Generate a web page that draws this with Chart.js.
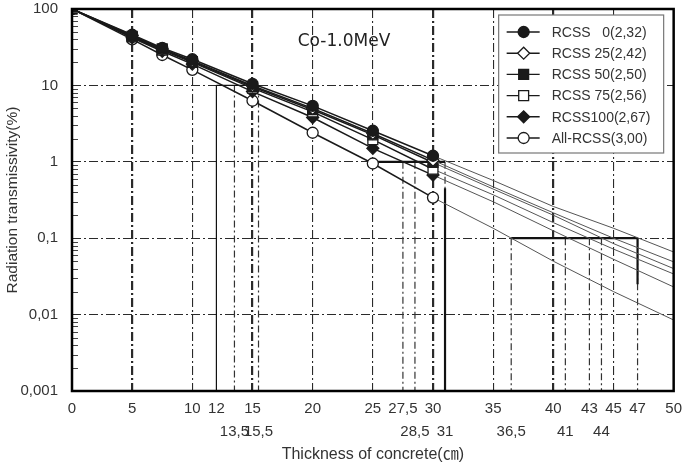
<!DOCTYPE html>
<html>
<head>
<meta charset="utf-8">
<script src="https://cdn.jsdelivr.net/npm/chart.js@4.4.1/dist/chart.umd.min.js"></script>
<style>
  html, body { margin: 0; padding: 0; background: #fff; }
</style>
</head>
<body>
<canvas id="chart" width="691" height="464"></canvas>
<script>
// thickness of concrete (cm) for each reading
const thickness = [0, 5, 7.5, 10, 15, 20, 25, 30, 35, 40, 45, 50]

// radiation transmissivity (%)
const rcss0   = [100, 46, 31, 22, 10.5, 5.4, 2.55, 1.2, 0.57, 0.26, 0.135, 0.066]
const rcss25  = [100, 45, 30, 21, 9.9, 5.0, 2.35, 1.05, 0.47, 0.215, 0.1, 0.049]
const rcss50  = [100, 44, 30, 20.5, 9.6, 4.8, 2.25, 0.98, 0.44, 0.2, 0.085, 0.04]
const rcss75  = [100, 43, 29, 20, 9.2, 4.5, 1.95, 0.8, 0.37, 0.16, 0.072, 0.034]
const rcss100 = [100, 42, 28, 19, 8.3, 3.8, 1.5, 0.67, 0.3, 0.125, 0.053, 0.023]
const allRcss = [100, 40, 25, 16, 6.3, 2.4, 0.95, 0.34, 0.135, 0.05, 0.02, 0.0085]

const seriesNames = ['RCSS   0(2,32)', 'RCSS 25(2,42)', 'RCSS 50(2,50)', 'RCSS 75(2,56)', 'RCSS100(2,67)', 'All-RCSS(3,00)']

// tick labels
const xTicksTop = [0, 5, 10, 12, 15, 20, 25, 27.5, 30, 35, 40, 43, 45, 47, 50]
const xTicksLow = [13.5, 15.5, 28.5, 31, 36.5, 41, 44]
const yTicks = [0.001, 0.01, 0.1, 1, 10, 100]

// thickness needed to reach 10%, 1% and 0.1%
const levels = [10, 1, 0.1]
const levelSpans = [[12, 15.5], [25, 31], [36.5, 47]]
const dashedDrops = [[13.5, 15.5], [27.5, 28.5, 31], [36.5, 41, 43, 44, 47]]
// solid parts of drop lines: [thickness, from %, to %]
const solidDrops = [[12, 10, 0.001], [31, 0.45, 0.001], [47, 0.1, 0.025]]

const series = [rcss0, rcss25, rcss50, rcss75, rcss100, allRcss]
const markers = [
  { style: 'circle', filled: true, r: 5.5 },
  { style: 'rectRot', filled: false, r: 6 },
  { style: 'rect', filled: true, r: 7 },
  { style: 'rect', filled: false, r: 7 },
  { style: 'rectRot', filled: true, r: 6 },
  { style: 'circle', filled: false, r: 5.5 },
]

const ink = '#1a1a1a'
const textColor = '#333'
const fontFamily = "'Liberation Sans', Arial, 'Noto Sans CJK KR', sans-serif"
const fmt = v => String(v).replace('.', ',')
const yMin = yTicks[0]

let datasets = series.map((vals, i) => {
  let m = markers[i]
  return {
    label: seriesNames[i],
    data: thickness.map((x, j) => ({ x: x, y: vals[j] })),
    borderColor: ink,
    borderWidth: 1.4,
    pointStyle: m.style,
    pointRadius: c => (c.raw && c.raw.x > 30) ? 0 : m.r,
    pointBackgroundColor: m.filled ? ink : '#fff',
    pointBorderColor: ink,
    pointBorderWidth: 1.3,
    segment: {
      borderColor: c => c.p0.parsed.x >= 30 ? '#555' : ink,
      borderWidth: c => c.p0.parsed.x >= 30 ? 1 : 1.5,
    },
    order: i,
  }
})

// reference lines
levels.forEach((lvl, k) => {
  datasets.push({
    data: [{ x: levelSpans[k][0], y: lvl }, { x: levelSpans[k][1], y: lvl }],
    borderColor: '#111', borderWidth: k == 0 ? 1.2 : 2.2, pointRadius: 0, order: 10,
  })
  dashedDrops[k].forEach(x => {
    datasets.push({
      data: [{ x: x, y: lvl }, { x: x, y: yMin }],
      borderColor: '#333', borderWidth: 1.2, borderDash: [7, 3, 2, 3], pointRadius: 0, order: 11,
    })
  })
})
solidDrops.forEach((d, k) => {
  datasets.push({
    data: [{ x: d[0], y: d[1] }, { x: d[0], y: d[2] }],
    borderColor: '#111', borderWidth: k == 0 ? 1.2 : 2.2, pointRadius: 0, order: 10,
  })
})

function drawMarker(ctx, m, x, y) {
  ctx.fillStyle = m.filled ? ink : '#fff'
  ctx.strokeStyle = ink
  ctx.lineWidth = 1.3
  Chart.helpers.drawPoint(ctx, { pointStyle: m.style, rotation: 0, radius: m.r, borderWidth: 1.3 }, x, y)
}

const framePlugin = {
  id: 'frame',
  afterDatasetsDraw(chart) {
    const { ctx, chartArea: a } = chart
    const ys = chart.scales.y
    ctx.save()

    // minor ticks inside the left axis
    ctx.strokeStyle = '#444'
    ctx.lineWidth = 1
    for (let k = 0; k < yTicks.length - 1; k++) {
      for (let m = 2; m <= 9; m++) {
        let py = Math.round(ys.getPixelForValue(m * yTicks[k])) + 0.5
        ctx.beginPath()
        ctx.moveTo(a.left, py)
        ctx.lineTo(a.left + 6, py)
        ctx.stroke()
      }
    }

    ctx.font = "17px 'DejaVu Sans', sans-serif"
    ctx.fillStyle = '#222'
    ctx.textAlign = 'center'
    ctx.textBaseline = 'middle'
    ctx.fillText('Co-1.0MeV', a.left + 272, a.top + 33)

    // legend box
    let bx = a.right - 175, by = a.top + 6, bw = 165, bh = 138
    ctx.fillStyle = '#fff'
    ctx.fillRect(bx, by, bw, bh)
    ctx.strokeStyle = '#777'
    ctx.lineWidth = 1.2
    ctx.strokeRect(bx, by, bw, bh)
    ctx.font = '14px ' + fontFamily
    ctx.textAlign = 'left'
    seriesNames.forEach((name, i) => {
      let y = by + 17 + i * 21.2
      ctx.strokeStyle = ink
      ctx.lineWidth = 1.4
      ctx.beginPath()
      ctx.moveTo(bx + 8, y)
      ctx.lineTo(bx + 41, y)
      ctx.stroke()
      drawMarker(ctx, markers[i], bx + 25, y)
      ctx.fillStyle = textColor
      ctx.fillText(name, bx + 53, y + 1)
    })

    ctx.strokeStyle = '#000'
    ctx.lineWidth = 2.5
    ctx.strokeRect(a.left, a.top, a.width, a.height)
    ctx.restore()
  }
}

const heavyX = [5, 15, 30, 40]

new Chart(document.getElementById('chart'), {
  type: 'line',
  data: { datasets: datasets },
  plugins: [framePlugin],
  options: {
    responsive: false,
    animation: false,
    devicePixelRatio: 1,
    layout: { padding: { left: 0, right: 11, top: 9, bottom: 0 } },
    plugins: { legend: { display: false }, tooltip: { enabled: false } },
    scales: {
      x: {
        type: 'linear', min: 0, max: 50, position: 'bottom', weight: 0,
        afterBuildTicks: s => { s.ticks = xTicksTop.map(v => ({ value: v })) },
        afterFit: s => { s.height = 27 },
        ticks: {
          autoSkip: false, maxRotation: 0, padding: 9, color: textColor,
          font: { family: fontFamily, size: 15 },
          callback: v => fmt(v),
        },
        grid: {
          drawTicks: false,
          color: c => {
            let v = c.tick ? c.tick.value : -1
            return (v > 0 && v < 50 && v % 5 == 0) ? '#2a2a2a' : 'rgba(0,0,0,0)'
          },
          lineWidth: c => (c.tick && heavyX.includes(c.tick.value)) ? 2.2 : 1.1,
        },
        border: { display: false, dash: [9, 3, 2, 3] },
      },
      x2: {
        type: 'linear', min: 0, max: 50, position: 'bottom', weight: 1,
        afterBuildTicks: s => { s.ticks = xTicksLow.map(v => ({ value: v })) },
        afterFit: s => { s.height = 46 },
        ticks: {
          autoSkip: false, maxRotation: 0, padding: 5, color: textColor,
          font: { family: fontFamily, size: 15 },
          callback: v => fmt(v),
        },
        grid: { display: false, drawTicks: false },
        border: { display: false },
        title: {
          display: true, text: 'Thickness of concrete(㎝)', color: textColor,
          font: { family: fontFamily, size: 16 }, padding: { top: 4, bottom: 0 },
        },
      },
      y: {
        type: 'logarithmic', min: 0.001, max: 100,
        afterBuildTicks: s => { s.ticks = yTicks.map(v => ({ value: v })) },
        afterFit: s => {
          s.width = 72
          s.paddingTop = 0
          s.paddingBottom = 0
        },
        ticks: {
          autoSkip: false, padding: 14, color: textColor,
          font: { family: fontFamily, size: 15 },
          callback: v => fmt(v),
        },
        grid: { drawTicks: false, color: '#2a2a2a', lineWidth: 1.1 },
        border: { display: false, dash: [9, 3, 2, 3] },
        title: {
          display: true, text: 'Radiation transmissivity(%)', color: textColor,
          font: { family: fontFamily, size: 15.5 }, padding: { top: 3, bottom: 0 },
        },
      },
    },
  },
})
</script>
</body>
</html>
